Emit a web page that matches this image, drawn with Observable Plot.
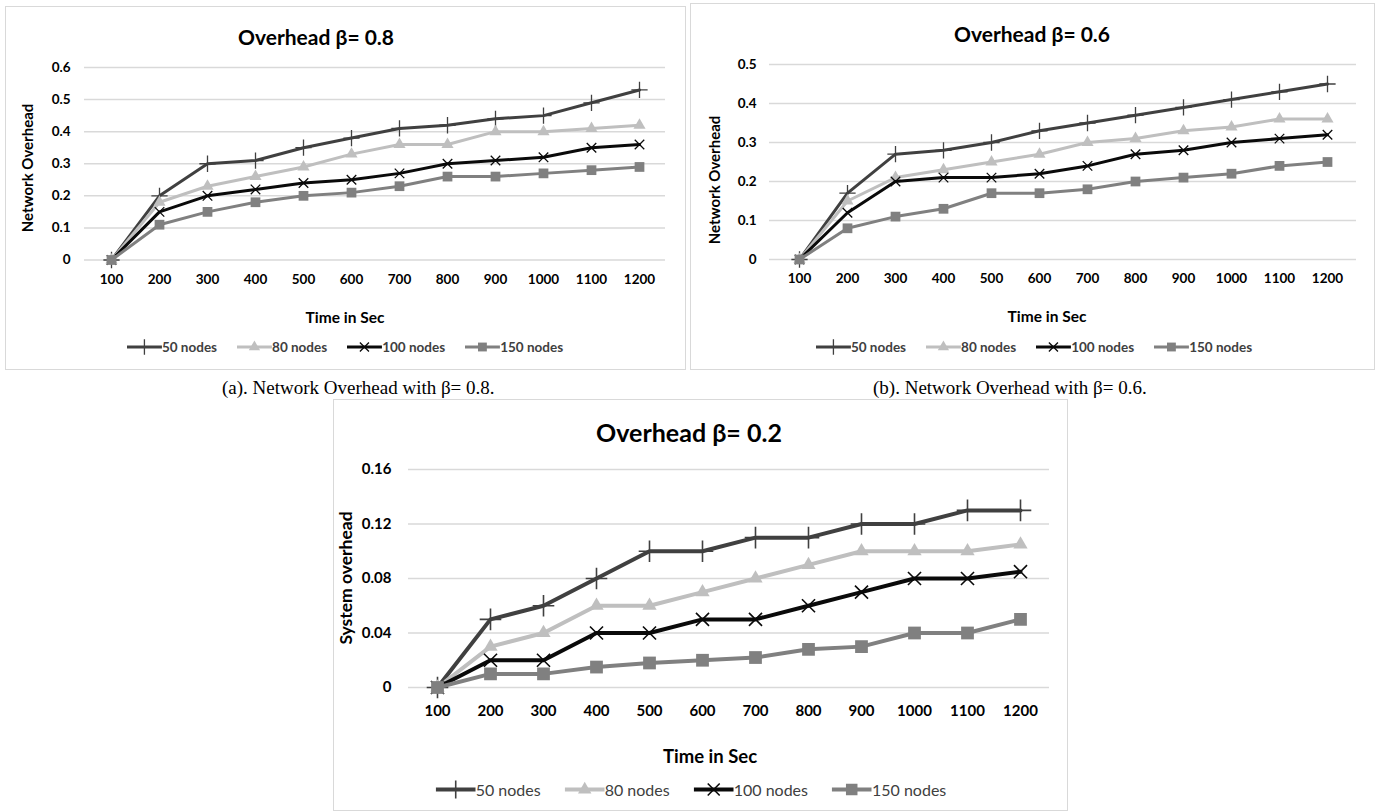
<!DOCTYPE html>
<html>
<head>
<meta charset="utf-8">
<script src="https://cdn.jsdelivr.net/npm/d3@7"></script>
<script src="https://cdn.jsdelivr.net/npm/@observablehq/plot@0.6"></script>
<style>
  html, body { margin: 0; padding: 0; background: #fff; }
  #root { position: relative; width: 1377px; height: 812px; overflow: hidden; background: #fff; font-family: Lato, "Open Sans", sans-serif; }
  .box { position: absolute; border: 1.5px solid #d9d9d9; box-sizing: border-box; }
  .txt { position: absolute; white-space: nowrap; color: #000; line-height: 1; }
  .chart { position: absolute; }
  .legend { position: absolute; white-space: nowrap; display: flex; align-items: center; transform: translate(-50%, -50%); color: #404040; }
  .legend .item { display: inline-flex; align-items: center; }
</style>
</head>
<body>
<div id="root"></div>
<script>
// ---------- data ----------
const times = [100, 200, 300, 400, 500, 600, 700, 800, 900, 1000, 1100, 1200];
const seriesNames = ["50 nodes", "80 nodes", "100 nodes", "150 nodes"];
const seriesColors = ["#404040", "#bfbfbf", "#0a0a0a", "#808080"];
const seriesSymbols = ["plus", "triangle", "times", "square"];

// (a) beta = 0.8
const beta08_50  = [0, 0.20, 0.30, 0.31, 0.35, 0.38, 0.41, 0.42, 0.44, 0.45, 0.49, 0.53];
const beta08_80  = [0, 0.18, 0.23, 0.26, 0.29, 0.33, 0.36, 0.36, 0.40, 0.40, 0.41, 0.42];
const beta08_100 = [0, 0.15, 0.20, 0.22, 0.24, 0.25, 0.27, 0.30, 0.31, 0.32, 0.35, 0.36];
const beta08_150 = [0, 0.11, 0.15, 0.18, 0.20, 0.21, 0.23, 0.26, 0.26, 0.27, 0.28, 0.29];

// (b) beta = 0.6
const beta06_50  = [0, 0.17, 0.27, 0.28, 0.30, 0.33, 0.35, 0.37, 0.39, 0.41, 0.43, 0.45];
const beta06_80  = [0, 0.15, 0.21, 0.23, 0.25, 0.27, 0.30, 0.31, 0.33, 0.34, 0.36, 0.36];
const beta06_100 = [0, 0.12, 0.20, 0.21, 0.21, 0.22, 0.24, 0.27, 0.28, 0.30, 0.31, 0.32];
const beta06_150 = [0, 0.08, 0.11, 0.13, 0.17, 0.17, 0.18, 0.20, 0.21, 0.22, 0.24, 0.25];

// (c) beta = 0.2
const beta02_50  = [0, 0.05, 0.06, 0.08, 0.10, 0.10, 0.11, 0.11, 0.12, 0.12, 0.13, 0.13];
const beta02_80  = [0, 0.03, 0.04, 0.06, 0.06, 0.07, 0.08, 0.09, 0.10, 0.10, 0.10, 0.105];
const beta02_100 = [0, 0.02, 0.02, 0.04, 0.04, 0.05, 0.05, 0.06, 0.07, 0.08, 0.08, 0.085];
const beta02_150 = [0, 0.01, 0.01, 0.015, 0.018, 0.02, 0.022, 0.028, 0.03, 0.04, 0.04, 0.05];

const yTicksA = [0, 0.1, 0.2, 0.3, 0.4, 0.5, 0.6];
const yTicksB = [0, 0.1, 0.2, 0.3, 0.4, 0.5];
const yTicksC = [0, 0.04, 0.08, 0.12, 0.16];

const titleA = "Overhead β= 0.8";
const titleB = "Overhead β= 0.6";
const titleC = "Overhead β= 0.2";
const yLabelAB = "Network Overhead";
const yLabelC = "System overhead";
const xLabel = "Time in Sec";
const captionA = "(a). Network Overhead with β= 0.8.";
const captionB = "(b). Network Overhead with β= 0.6.";

// ---------- helpers ----------
const FONT = "Lato, 'Open Sans', sans-serif";
const root = document.getElementById("root");

function table(arrs) {
  const rows = [];
  arrs.forEach((vals, i) => vals.forEach((v, j) => rows.push({time: times[j], value: v, series: seriesNames[i]})));
  return rows;
}

function addText(txt, x, y, style, rotate) {
  const d = document.createElement("div");
  d.className = "txt";
  d.textContent = txt;
  d.style.left = x + "px";
  d.style.top = y + "px";
  d.style.transform = "translate(-50%, -50%)" + (rotate ? " rotate(-90deg)" : "");
  Object.assign(d.style, style);
  root.appendChild(d);
  return d;
}

function addBox(b) {
  const d = document.createElement("div");
  d.className = "box";
  d.style.left = b.l + "px"; d.style.top = b.t + "px";
  d.style.width = (b.r - b.l) + "px"; d.style.height = (b.b - b.t) + "px";
  root.appendChild(d);
}

function symbolType(name) {
  return {plus: d3.symbolPlus, times: d3.symbolTimes, triangle: d3.symbolTriangle, square: d3.symbolSquare}[name];
}

function addLegend(cx, cy, o) {
  const d = document.createElement("div");
  d.className = "legend";
  d.style.left = cx + "px"; d.style.top = cy + "px";
  d.style.fontSize = o.fontSize + "px";
  d.style.fontWeight = o.fontWeight;
  seriesNames.forEach((s, i) => {
    const item = document.createElement("span");
    item.className = "item";
    if (i < seriesNames.length - 1) item.style.marginRight = o.gap + "px";
    const L = o.lineLen, H = 18;
    const sym = seriesSymbols[i];
    const filled = sym === "triangle" || sym === "square";
    const path = d3.symbol(symbolType(sym), Math.PI * o.r[i] * o.r[i])();
    item.innerHTML =
      `<svg width="${L}" height="${H}" style="display:block">` +
      `<line x1="0" y1="${H/2}" x2="${L}" y2="${H/2}" stroke="${seriesColors[i]}" stroke-width="${o.lineW}"/>` +
      `<path d="${path}" transform="translate(${L/2},${H/2})" ` +
      (filled ? `fill="${seriesColors[i]}" stroke="none"` : `fill="none" stroke="${seriesColors[i]}" stroke-width="${o.symW}"`) +
      `/></svg><span>${s}</span>`;
    d.appendChild(item);
  });
  root.appendChild(d);
}

function chart(cfg) {
  const {box, plot, data, yTicks, ymax} = cfg;
  const W = box.r - box.l, H = box.b - box.t;
  const marks = [
    Plot.gridY(yTicks, {stroke: "#d9d9d9", strokeOpacity: 1, strokeWidth: 1.5}),
    Plot.axisY(yTicks, {tickSize: 0, tickPadding: cfg.yPad, tickFormat: d => String(d), label: null}),
    Plot.axisX(times, {tickSize: 0, tickPadding: cfg.xPad, tickFormat: d => String(d), label: null})
  ];
  seriesNames.forEach((s, i) => {
    const rows = data.filter(d => d.series === s);
    const sym = seriesSymbols[i];
    const filled = sym === "triangle" || sym === "square";
    marks.push(Plot.line(rows, {x: "time", y: "value", stroke: seriesColors[i], strokeWidth: cfg.lineW, strokeLinejoin: "round", strokeLinecap: "round"}));
    marks.push(Plot.dot(rows, Object.assign(
      {x: "time", y: "value", symbol: sym, r: cfg.r[i]},
      filled ? {fill: seriesColors[i], stroke: "none"} : {fill: "none", stroke: seriesColors[i], strokeWidth: cfg.symW}
    )));
  });
  const svg = Plot.plot({
    width: W, height: H,
    marginLeft: plot.l - box.l, marginRight: box.r - plot.r,
    marginTop: plot.t - box.t, marginBottom: box.b - plot.b,
    x: {type: "point", domain: times, padding: 0.5, label: null},
    y: {domain: [0, ymax], label: null},
    style: {fontFamily: FONT, fontSize: cfg.tickFont + "px", fontWeight: "bold", color: "#000", background: "transparent", overflow: "visible"},
    marks
  });
  svg.classList.add("chart");
  svg.style.left = box.l + "px";
  svg.style.top = box.t + "px";
  root.appendChild(svg);
}

// ---------- panel (a) ----------
const boxA = {l: 5, t: 6, r: 686, b: 370};
addBox(boxA);
chart({box: boxA, plot: {l: 84, r: 665, t: 67, b: 259.5},
  data: table([beta08_50, beta08_80, beta08_100, beta08_150]),
  yTicks: yTicksA, ymax: 0.6, yPad: 14, xPad: 14, tickFont: 13.5,
  lineW: 3, symW: 1.3, r: [5.3, 4.5, 4.4, 5.5]});
addText(titleA, 316, 36, {fontFamily: FONT, fontWeight: "bold", fontSize: "21px"});
addText(yLabelAB, 27, 168, {fontFamily: FONT, fontWeight: "bold", fontSize: "15px"}, true);
addText(xLabel, 345, 318, {fontFamily: FONT, fontWeight: "bold", fontSize: "15.5px"});
addLegend(345, 347, {fontSize: 13.5, fontWeight: "bold", gap: 20, lineLen: 35, lineW: 3, symW: 1.3, r: [5, 4.2, 4.2, 5]});

// ---------- panel (b) ----------
const boxB = {l: 690, t: 3, r: 1375, b: 370};
addBox(boxB);
chart({box: boxB, plot: {l: 769, r: 1356, t: 64, b: 259},
  data: table([beta06_50, beta06_80, beta06_100, beta06_150]),
  yTicks: yTicksB, ymax: 0.5, yPad: 13, xPad: 14, tickFont: 13.5,
  lineW: 3, symW: 1.3, r: [5.3, 4.5, 4.4, 5.5]});
addText(titleB, 1032, 33, {fontFamily: FONT, fontWeight: "bold", fontSize: "21px"});
addText(yLabelAB, 714, 180, {fontFamily: FONT, fontWeight: "bold", fontSize: "15px"}, true);
addText(xLabel, 1047, 317, {fontFamily: FONT, fontWeight: "bold", fontSize: "15.5px"});
addLegend(1034, 347, {fontSize: 13.5, fontWeight: "bold", gap: 20, lineLen: 35, lineW: 3, symW: 1.3, r: [5, 4.2, 4.2, 5]});

// ---------- captions ----------
const capStyle = {fontFamily: "'Liberation Serif', 'Times New Roman', serif", fontSize: "19px", transform: "translate(0, -50%)"};
addText(captionA, 222, 387, capStyle);
addText(captionB, 873, 387, capStyle);

// ---------- panel (c) ----------
const boxC = {l: 333, t: 399, r: 1068, b: 811};
addBox(boxC);
chart({box: boxC, plot: {l: 408, r: 1049, t: 469, b: 687},
  data: table([beta02_50, beta02_80, beta02_100, beta02_150]),
  yTicks: yTicksC, ymax: 0.16, yPad: 17, xPad: 18, tickFont: 15,
  lineW: 4, symW: 1.6, r: [7, 5.3, 6, 7.2]});
addText(titleC, 689, 432, {fontFamily: FONT, fontWeight: "bold", fontSize: "25px"});
addText(yLabelC, 346, 578, {fontFamily: FONT, fontWeight: "bold", fontSize: "17.5px"}, true);
addText(xLabel, 710, 756, {fontFamily: FONT, fontWeight: "bold", fontSize: "18.5px"});
addLegend(691, 789, {fontSize: 16, fontWeight: "normal", gap: 24, lineLen: 40, lineW: 4, symW: 1.6, r: [6.5, 5, 5.5, 6.5]});
</script>
</body>
</html>
